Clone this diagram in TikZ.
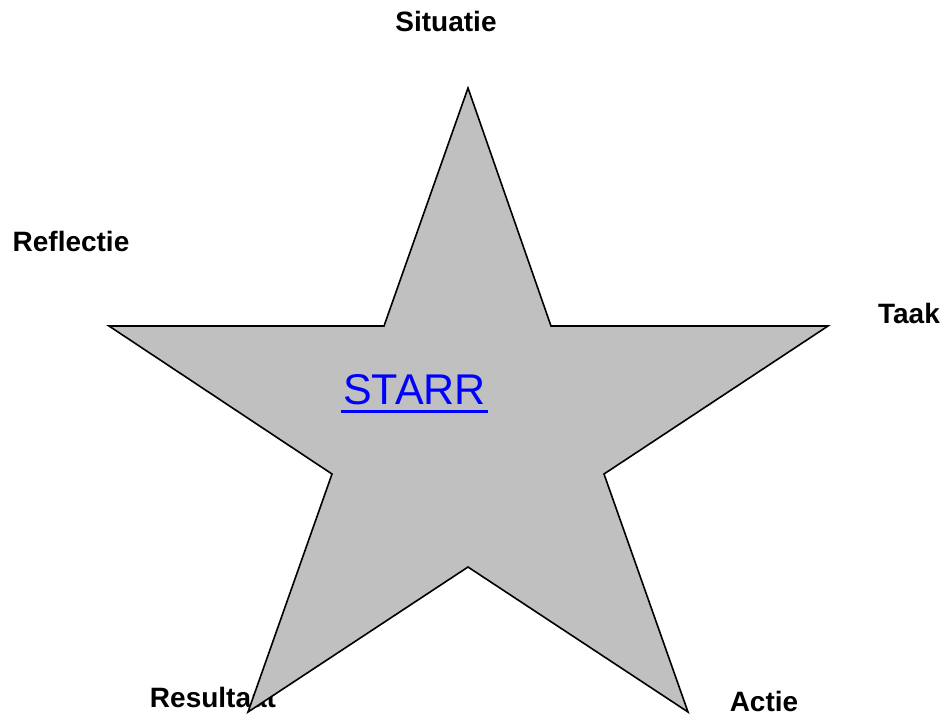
\documentclass[tikz,border=0pt]{standalone}
\usepackage{fontspec}
\setmainfont{Liberation Sans}
\definecolor{stargray}{RGB}{192,192,192}
\definecolor{linkblue}{RGB}{0,0,255}
\tikzset{
  lbl/.style={font=\fontsize{28}{31}\selectfont\bfseries, inner sep=0pt, anchor=base},
  starbody/.style={fill=stargray, draw=black, line width=1.6pt, line join=miter},
  link/.style={font=\fontsize{43}{47}\selectfont, text=linkblue, inner sep=0pt, anchor=base}
}
\begin{document}
\begin{tikzpicture}[x=1pt,y=-1pt]
\useasboundingbox (0,0) rectangle (947,715);
% labels (drawn first; the star covers part of "Resultaat")
\node[lbl] (situatie) at (446,31) {Situatie};
\node[lbl] (reflectie) at (71,251) {Reflectie};
\node[lbl] (taak) at (909,323) {Taak};
\node[lbl] (actie) at (764,711) {Actie};
\node[lbl] (resultaat) at (213,707) {Resultaat};
% star
\draw[starbody] (468,88) -- (551,326) -- (828,326) -- (604,474) -- (688,712)
  -- (468,567) -- (248,712) -- (332,474) -- (109,326) -- (384,326) -- cycle;
% centre link text
\node[link] (starr) at (414.5,404) {STARR};
\draw[linkblue, line width=3pt] ([xshift=-2pt,yshift=-7pt]starr.base west) -- ([xshift=2pt,yshift=-7pt]starr.base east);
\end{tikzpicture}
\end{document}
